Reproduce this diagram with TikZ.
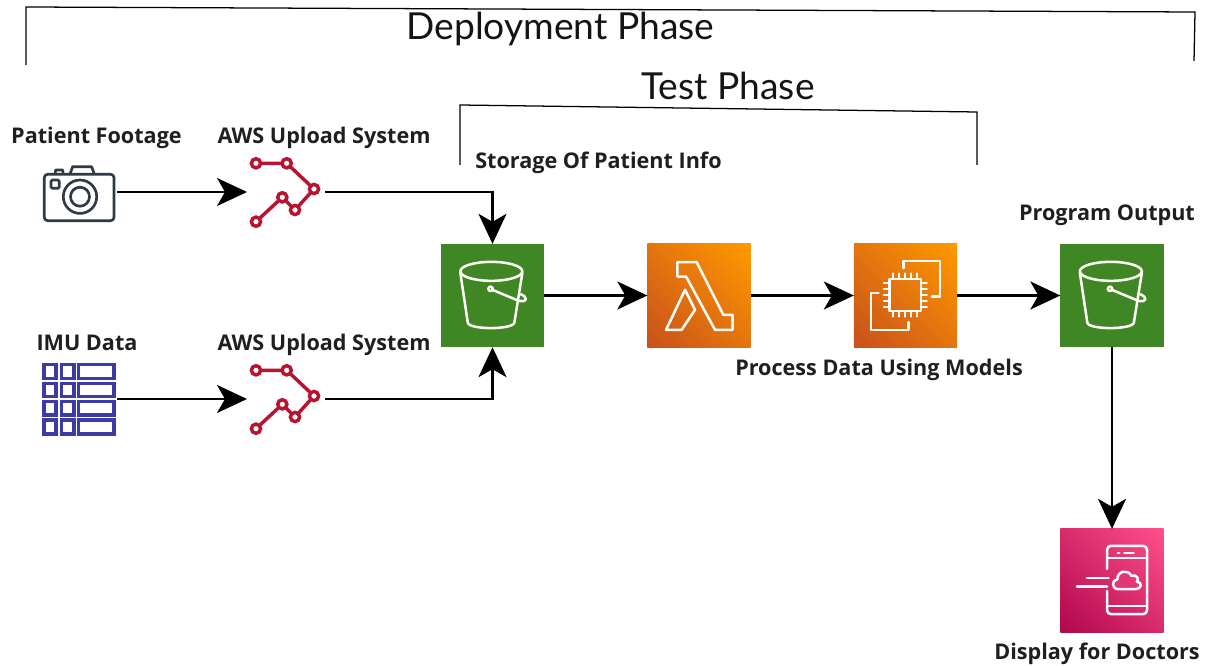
\documentclass[tikz,border=0pt]{standalone}
\usepackage{fontspec}
\setmainfont{Open Sans}
\newfontfamily\phasefont{Lato}
\usetikzlibrary{arrows.meta,calc}
\definecolor{awsgreen}{HTML}{3F8624}
\definecolor{orangelo}{HTML}{C8511B}
\definecolor{orangehi}{HTML}{FF9900}
\definecolor{pinklo}{HTML}{B0084D}
\definecolor{pinkhi}{HTML}{FF4F8B}
\definecolor{swred}{HTML}{B7152F}
\definecolor{camcol}{HTML}{2F3A46}
\definecolor{tablecol}{HTML}{3D3BA6}
\pgfdeclareverticalshading{tileorange}{100bp}{color(0bp)=(orangelo); color(15bp)=(orangelo); color(85bp)=(orangehi); color(100bp)=(orangehi)}
\pgfdeclareverticalshading{tilepink}{100bp}{color(0bp)=(pinklo); color(15bp)=(pinklo); color(85bp)=(pinkhi); color(100bp)=(pinkhi)}
\tikzset{
  label text/.style={font=\fontsize{16.2}{19}\selectfont\bfseries,text=black!88,anchor=base,inner sep=0pt},
  phase text/.style={font=\fontsize{27.9}{33}\phasefont,text=black!92,anchor=base,inner sep=0pt},
  flow/.style={line width=1.8pt,-{Stealth[length=22.5pt,width=21pt,inset=6pt]},black},
  bracket/.style={line width=0.95pt,black},
  tile/.style={minimum width=77.5pt,minimum height=77.5pt,inner sep=0pt,outer sep=0pt},
  green tile/.style={tile,fill=awsgreen},
  orange tile/.style={tile,shading=tileorange,shading angle=-45},
  pink tile/.style={tile,shading=tilepink,shading angle=-45},
  glyph/.style={white!97!orange,line width=1.9pt,line join=round,line cap=round},
  sourcebox/.style={minimum width=55.5pt,minimum height=50pt,inner sep=0pt,outer sep=0pt},
  netbox/.style={minimum width=58.5pt,minimum height=54pt,inner sep=0pt,outer sep=0pt},
  swline/.style={swred,line width=2.6pt},
  swdot/.style={swred,line width=2.6pt,fill=white},
  camline/.style={camcol,line width=2pt,line join=round},
  tabline/.style={tablecol,line width=2.3pt},
}
\newcommand{\bucketglyph}{%
  \draw[glyph] (50.5,27.5) ellipse [x radius=31,y radius=9.5];
  \draw[glyph] (19.5,29) -- (27,79) .. controls (29,86) and (71,86) .. (73.5,79) -- (81.5,29);
  \draw[glyph] (49.7,45) circle [radius=2.2];
  \draw[glyph] (51.5,46) -- (78,57) .. controls (87,59) and (87,53) .. (80,50.5);
}
\newcommand{\switchglyph}{%
  \draw[swline] (-30,-28.7) -- (0.7,-28.7) -- (28,-3) -- (9,18) -- (-3.7,5.3) -- (-30,29.7);
  \foreach \p in {(-30,-28.7),(0.7,-28.7),(28,-3),(9,18),(-3.7,5.3),(-30,29.7)}
    \draw[swdot] \p circle [radius=4.6];
}
\begin{document}
\begin{tikzpicture}[x=0.75pt,y=-0.75pt]
\useasboundingbox (0,0) rectangle (1205,666);
\fill[white] (0,0) rectangle (1205,666);

% brackets
\coordinate (depA) at (26,65);
\coordinate (depB) at (26,7);
\coordinate (depC) at (1195,12);
\coordinate (depD) at (1194,61);
\draw[bracket] (depA) -- (depB) -- (depC) -- (depD);
\coordinate (testA) at (460,165);
\coordinate (testB) at (460,105);
\coordinate (testC) at (977,112);
\coordinate (testD) at (977,165);
\draw[bracket] (testA) -- (testB) -- (testC) -- (testD);

% texts
\node[phase text] (deploy) at (560.5,39.5) {Deployment Phase};
\node[phase text] (test) at (728,99.5) {Test Phase};
\node[label text] (lfoot) at (96.5,143.7) {Patient Footage};
\node[label text] (lup1) at (324,143.7) {AWS Upload System};
\node[label text] (lstore) at (598.5,168.7) {Storage Of Patient Info};
\node[label text] (lout) at (1107,220.7) {Program Output};
\node[label text] (limu) at (87,350) {IMU Data};
\node[label text] (lup2) at (324,350) {AWS Upload System};
\node[label text] (lproc) at (879,375) {Process Data Using Models};
\node[label text] (ldisp) at (1097,659) {Display for Doctors};

% source and upload nodes
\node[sourcebox] (camera) at (80,192) {};
\node[sourcebox] (imu) at (80,399) {};
\node[netbox] (upa) at (286,192) {};
\node[netbox] (upb) at (286,399) {};

% tiles
\node[green tile] (bucketa) at (492.5,295.5) {};
\node[orange tile] (lambda) at (699,295.5) {};
\node[orange tile] (ec) at (905.5,295.5) {};
\node[green tile] (bucketb) at (1112,295.5) {};
\node[pink tile] (mobile) at (1112,580.5) {};

% camera glyph
\draw[camline] (210/3,174.3) -- (218/3,166.7) -- (275/3,166.7) -- (283/3,174.3);
\draw[camline] (165/3,174.3) -- (167/3,170) -- (188/3,170) -- (190/3,174.3);
\draw[camline,rounded corners=2.5pt] (44.3,174.3) rectangle (114,220.7);
\draw[camline] (80,196.7) circle [radius=16.7];
\draw[camline] (80,196.7) circle [radius=9.5];
\draw[camline,rounded corners=1pt] (51,180) rectangle (59.3,188.3);

% table glyph
\foreach \ya/\yb in {364.3/378.3,383.3/396.7,401.7/415,420/434}{
  \draw[tabline] (44,\ya) rectangle (56,\yb);
  \draw[tabline] (61.7,\ya) rectangle (74,\yb);
  \draw[tabline] (78.3,\ya) rectangle (114,\yb);
}

% upload glyphs
\begin{scope}[shift={(upa.center)}]\switchglyph\end{scope}
\begin{scope}[shift={(upb.center)}]\switchglyph\end{scope}

% bucket glyphs
\begin{scope}[shift={(bucketa.north west)}]\bucketglyph\end{scope}
\begin{scope}[shift={(bucketb.north west)}]\bucketglyph\end{scope}

% lambda glyph
\begin{scope}[shift={(lambda.north west)}]
  \draw[glyph] (30,18.3) -- (49.3,18.3) -- (76,71) -- (85.3,71) -- (85.3,86) -- (67.7,86) -- (38.7,32.7) -- (30,32.7) -- cycle;
  \draw[glyph] (37.7,46) -- (47.7,66) -- (34.3,86) -- (18.7,86) -- cycle;
\end{scope}

% ec2 glyph
\begin{scope}[shift={(ec.north west)}]
  \draw[glyph] (49.7,24.3) -- (49.7,17) -- (86.3,17) -- (86.3,52.7) -- (78,52.7);
  \draw[glyph] (24.7,49.3) -- (17,49.3) -- (17,86) -- (54.7,86) -- (54.7,78.3);
  \draw[glyph] (35.7,35.3) rectangle (67.3,67);
  \foreach \t in {39.5,45.5,51.5,57.5,63.5}{
    \draw[glyph,line width=1.5pt] (\t,35.3) -- (\t,29.5);
    \draw[glyph,line width=1.5pt] (\t,67) -- (\t,72.8);
    \draw[glyph,line width=1.5pt] (35.7,\t) -- (29.9,\t);
    \draw[glyph,line width=1.5pt] (67.3,\t) -- (73.1,\t);
  }
\end{scope}

% mobile glyph
\begin{scope}[shift={(mobile.north west)}]
  \draw[glyph,rounded corners=3pt] (46.7,40) -- (46.7,17) -- (86.7,17) -- (86.7,85.3) -- (46.7,85.3) -- (46.7,62);
  \draw[glyph] (46.7,29) -- (86.7,29);
  \draw[glyph] (46.7,77) -- (86.7,77);
  \draw[glyph] (57.5,24) -- (59,24);
  \draw[glyph] (64,24) -- (73.3,24);
  \draw[glyph,fill=pinklo!35!pinkhi] (58,60.3) .. controls (51,60.3) and (51,51) .. (57,50.5)
     .. controls (57,42) and (68,40) .. (71,47)
     .. controls (77,45) and (79,51) .. (76.5,53)
     .. controls (83,54) and (81,60.3) .. (75,60.3) -- cycle;
  \draw[glyph] (26.7,49.3) -- (48.3,49.3);
  \draw[glyph] (16.7,57.7) -- (46.7,57.7);
\end{scope}

% connectors
\draw[flow] (camera.east) -- (upa.west);
\draw[flow] (imu.east) -- (upb.west);
\draw[flow] (upa.east) -| (bucketa.north);
\draw[flow] (upb.east) -| (bucketa.south);
\draw[flow] (bucketa.east) -- (lambda.west);
\draw[flow] (lambda.east) -- (ec.west);
\draw[flow] (ec.east) -- (bucketb.west);
\draw[flow] (bucketb.south) -- (mobile.north);
\end{tikzpicture}
\end{document}
